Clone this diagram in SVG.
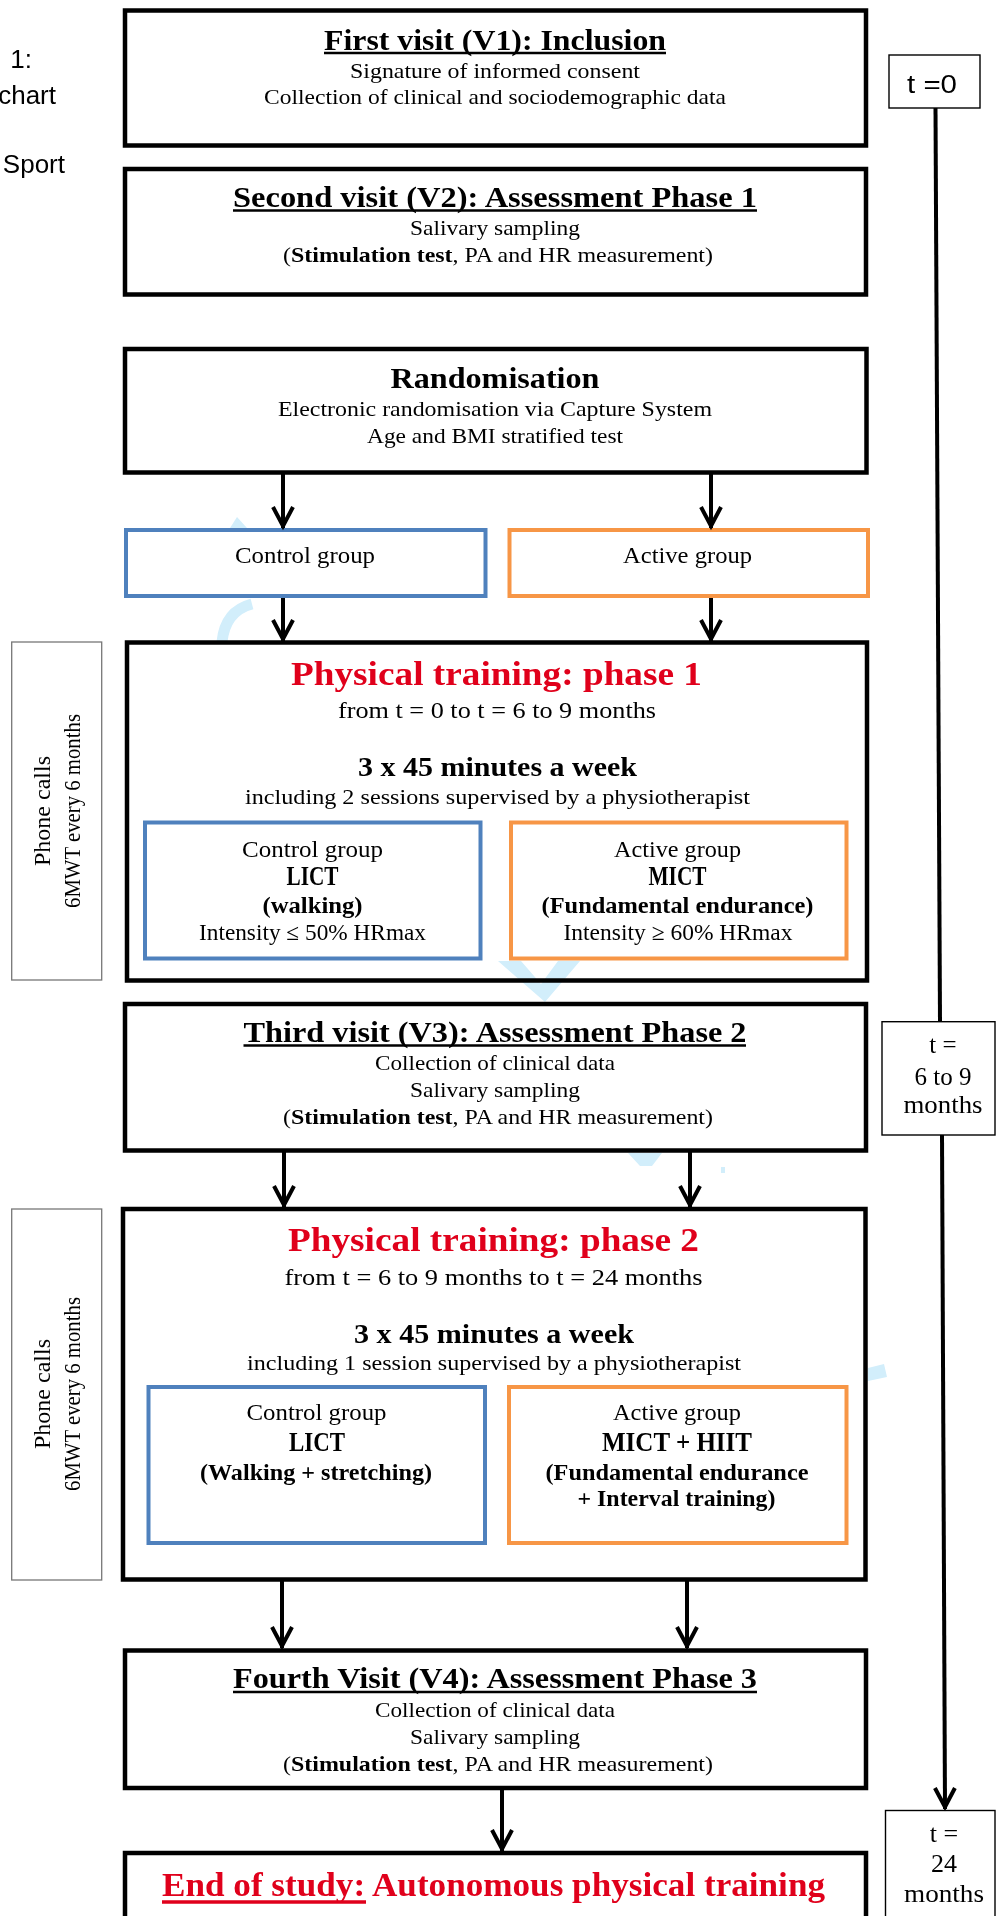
<svg xmlns="http://www.w3.org/2000/svg" width="997" height="1916" viewBox="0 0 997 1916">
<style>
.box{fill:#fff;stroke:#000;stroke-width:4.5}
.blue{fill:#fff;stroke:#4F81BD;stroke-width:4}
.orange{fill:#fff;stroke:#F79646;stroke-width:4}
.side{fill:#fff;stroke:#777;stroke-width:1.3}
.tbox{fill:#fff;stroke:#000;stroke-width:1.4}
text{font-family:"Liberation Serif","Times New Roman",serif;fill:#000}
.c{text-anchor:middle}
.b{font-weight:bold}
.t{font-size:29px;font-weight:bold}
.s{font-size:22px}
.red{fill:#E0001B;font-size:34px;font-weight:bold}
.sans{font-family:"Liberation Sans",Arial,sans-serif}
.ul{stroke:#000;stroke-width:2.4}
.conn{stroke:#000;stroke-width:4;fill:none}
.wm{fill:#D2EEFB;mix-blend-mode:multiply}
</style>
<defs>
<marker id="arr" viewBox="-26 -14 30 28" refX="0" refY="0" markerWidth="30" markerHeight="28" markerUnits="userSpaceOnUse" orient="auto">
<path d="M-21,-10 L-2,0 L-21,10" fill="none" stroke="#000" stroke-width="4"/>
</marker>
</defs>
<rect width="997" height="1916" fill="#fff"/>

<g id="caption-fragments">
<text class="sans" x="32" y="68" text-anchor="end" font-size="26" fill="#333">1:</text>
<text class="sans" x="56" y="104" text-anchor="end" font-size="26" fill="#333">chart</text>
<text class="sans" x="65" y="173" text-anchor="end" font-size="26" fill="#333">Sport</text>
</g>

<g id="v1">
<rect class="box" x="125" y="10.5" width="741" height="135"/>
<text class="c t" x="495" y="50" textLength="342" lengthAdjust="spacingAndGlyphs">First visit (V1): Inclusion</text>
<line class="ul" x1="324" y1="53" x2="666" y2="53"/>
<text class="c s" x="495" y="78" textLength="290" lengthAdjust="spacingAndGlyphs">Signature of informed consent</text>
<text class="c s" x="495" y="104" textLength="462" lengthAdjust="spacingAndGlyphs">Collection of clinical and sociodemographic data</text>
</g>

<g id="v2">
<rect class="box" x="125" y="169" width="741" height="125.5"/>
<text class="c t" x="495" y="207" textLength="524" lengthAdjust="spacingAndGlyphs">Second visit (V2): Assessment Phase 1</text>
<line class="ul" x1="233" y1="210.5" x2="757" y2="210.5"/>
<text class="c s" x="495" y="235" textLength="170" lengthAdjust="spacingAndGlyphs">Salivary sampling</text>
<text class="c s" x="498" y="262" textLength="430" lengthAdjust="spacingAndGlyphs">(<tspan class="b">Stimulation test</tspan>, PA and HR measurement)</text>
</g>

<g id="randomisation">
<rect class="box" x="125" y="349" width="741.5" height="123.5"/>
<text class="c b" x="495" y="388" font-size="30" textLength="209" lengthAdjust="spacingAndGlyphs">Randomisation</text>
<text class="c s" x="495" y="416" textLength="434" lengthAdjust="spacingAndGlyphs">Electronic randomisation via Capture System</text>
<text class="c s" x="495" y="443" textLength="256" lengthAdjust="spacingAndGlyphs">Age and BMI stratified test</text>
</g>

<g id="control-group">
<rect class="blue" x="126" y="530" width="359.5" height="66"/>
<text class="c" x="305" y="563" font-size="23" textLength="140" lengthAdjust="spacingAndGlyphs">Control group</text>
</g>

<g id="active-group">
<rect class="orange" x="509.5" y="530" width="358.5" height="66"/>
<text class="c" x="687.5" y="563" font-size="23" textLength="129" lengthAdjust="spacingAndGlyphs">Active group</text>
</g>

<g id="phone-calls-1">
<rect class="side" x="11.7" y="642" width="90" height="338"/>
<text class="c" transform="translate(50,811) rotate(-90)" font-size="23" fill="#333" textLength="110" lengthAdjust="spacingAndGlyphs">Phone calls</text>
<text class="c" transform="translate(80,811) rotate(-90)" font-size="23" fill="#333" textLength="194" lengthAdjust="spacingAndGlyphs">6MWT every 6 months</text>
</g>

<g id="phase1">
<rect class="box" x="127" y="642.5" width="740" height="338"/>
<text class="c red" x="496.5" y="685" textLength="411" lengthAdjust="spacingAndGlyphs">Physical training: phase 1</text>
<text class="c" x="497" y="718" font-size="23" textLength="318" lengthAdjust="spacingAndGlyphs">from t = 0 to t = 6 to 9 months</text>
<text class="c b" x="497.5" y="776" font-size="28" textLength="279" lengthAdjust="spacingAndGlyphs">3 x 45 minutes a week</text>
<text class="c s" x="497.5" y="804" textLength="505" lengthAdjust="spacingAndGlyphs">including 2 sessions supervised by a physiotherapist</text>
</g>

<g id="phase1-control">
<rect class="blue" x="145" y="822.5" width="335.5" height="136"/>
<text class="c" x="312.5" y="857" font-size="23" textLength="141" lengthAdjust="spacingAndGlyphs">Control group</text>
<text class="c b" x="312.5" y="885" font-size="27" textLength="52" lengthAdjust="spacingAndGlyphs">LICT</text>
<text class="c b" x="312.5" y="913" font-size="24" textLength="100" lengthAdjust="spacingAndGlyphs">(walking)</text>
<text class="c" x="312.5" y="940" font-size="23" textLength="227" lengthAdjust="spacingAndGlyphs">Intensity ≤ 50% HRmax</text>
</g>

<g id="phase1-active">
<rect class="orange" x="511" y="822.5" width="335.5" height="136"/>
<text class="c" x="677.5" y="857" font-size="23" textLength="127" lengthAdjust="spacingAndGlyphs">Active group</text>
<text class="c b" x="677.5" y="885" font-size="27" textLength="58" lengthAdjust="spacingAndGlyphs">MICT</text>
<text class="c b" x="677.5" y="913" font-size="24" textLength="272" lengthAdjust="spacingAndGlyphs">(Fundamental endurance)</text>
<text class="c" x="678" y="940" font-size="23" textLength="229" lengthAdjust="spacingAndGlyphs">Intensity ≥ 60% HRmax</text>
</g>

<g id="v3">
<rect class="box" x="125" y="1004" width="741" height="146.5"/>
<text class="c t" x="495" y="1042" textLength="503" lengthAdjust="spacingAndGlyphs">Third visit (V3): Assessment Phase 2</text>
<line class="ul" x1="243.5" y1="1045.5" x2="746" y2="1045.5"/>
<text class="c s" x="495" y="1070" textLength="240" lengthAdjust="spacingAndGlyphs">Collection of clinical data</text>
<text class="c s" x="495" y="1097" textLength="170" lengthAdjust="spacingAndGlyphs">Salivary sampling</text>
<text class="c s" x="498" y="1124" textLength="430" lengthAdjust="spacingAndGlyphs">(<tspan class="b">Stimulation test</tspan>, PA and HR measurement)</text>
</g>

<g id="phone-calls-2">
<rect class="side" x="11.7" y="1209" width="90" height="371"/>
<text class="c" transform="translate(50,1394) rotate(-90)" font-size="23" fill="#333" textLength="110" lengthAdjust="spacingAndGlyphs">Phone calls</text>
<text class="c" transform="translate(80,1394) rotate(-90)" font-size="23" fill="#333" textLength="194" lengthAdjust="spacingAndGlyphs">6MWT every 6 months</text>
</g>

<g id="phase2">
<rect class="box" x="123" y="1209" width="742.5" height="370.5"/>
<text class="c red" x="493.5" y="1251" textLength="411" lengthAdjust="spacingAndGlyphs">Physical training: phase 2</text>
<text class="c" x="493.5" y="1285" font-size="23" textLength="418" lengthAdjust="spacingAndGlyphs">from t = 6 to 9 months to t = 24 months</text>
<text class="c b" x="494" y="1343" font-size="28" textLength="280" lengthAdjust="spacingAndGlyphs">3 x 45 minutes a week</text>
<text class="c s" x="494" y="1370" textLength="494" lengthAdjust="spacingAndGlyphs">including 1 session supervised by a physiotherapist</text>
</g>

<g id="phase2-control">
<rect class="blue" x="148.5" y="1387" width="336.5" height="156"/>
<text class="c" x="316.5" y="1420" font-size="23" textLength="140" lengthAdjust="spacingAndGlyphs">Control group</text>
<text class="c b" x="317" y="1451" font-size="28" textLength="56" lengthAdjust="spacingAndGlyphs">LICT</text>
<text class="c b" x="316" y="1480" font-size="24" textLength="232" lengthAdjust="spacingAndGlyphs">(Walking + stretching)</text>
</g>

<g id="phase2-active">
<rect class="orange" x="509" y="1387" width="337.5" height="156"/>
<text class="c" x="677" y="1420" font-size="23" textLength="128" lengthAdjust="spacingAndGlyphs">Active group</text>
<text class="c b" x="677" y="1451" font-size="28" textLength="150" lengthAdjust="spacingAndGlyphs">MICT + HIIT</text>
<text class="c b" x="677" y="1480" font-size="24" textLength="263" lengthAdjust="spacingAndGlyphs">(Fundamental endurance</text>
<text class="c b" x="676.5" y="1506" font-size="24" textLength="198" lengthAdjust="spacingAndGlyphs">+ Interval training)</text>
</g>

<g id="v4">
<rect class="box" x="125" y="1650.5" width="741" height="137.5"/>
<text class="c t" x="495" y="1688" textLength="524" lengthAdjust="spacingAndGlyphs">Fourth Visit (V4): Assessment Phase 3</text>
<line class="ul" x1="233" y1="1692" x2="757" y2="1692"/>
<text class="c s" x="495" y="1717" textLength="240" lengthAdjust="spacingAndGlyphs">Collection of clinical data</text>
<text class="c s" x="495" y="1744" textLength="170" lengthAdjust="spacingAndGlyphs">Salivary sampling</text>
<text class="c s" x="498" y="1771" textLength="430" lengthAdjust="spacingAndGlyphs">(<tspan class="b">Stimulation test</tspan>, PA and HR measurement)</text>
</g>

<g id="end-of-study">
<rect class="box" x="125" y="1853" width="741" height="80"/>
<text class="red" x="162" y="1896" textLength="663" lengthAdjust="spacingAndGlyphs">End of study: Autonomous physical training</text>
<line x1="162" y1="1902" x2="366" y2="1902" stroke="#E0001B" stroke-width="3.5"/>
</g>

<g id="t0">
<rect class="tbox" x="889" y="55" width="91" height="53"/>
<text class="sans" x="907" y="93" font-size="26" textLength="50" lengthAdjust="spacingAndGlyphs">t =0</text>
</g>

<g id="t6to9">
<rect class="tbox" x="882" y="1021.7" width="113" height="113.3"/>
<text class="c" x="943" y="1053" font-size="25">t =</text>
<text class="c" x="943" y="1085" font-size="25">6 to 9</text>
<text class="c" x="943" y="1113" font-size="25" textLength="79" lengthAdjust="spacingAndGlyphs">months</text>
</g>

<g id="t24">
<rect class="tbox" x="885.5" y="1810.5" width="109.5" height="120"/>
<text class="c" x="944" y="1842" font-size="26">t =</text>
<text class="c" x="944" y="1872" font-size="26">24</text>
<text class="c" x="944" y="1902" font-size="26" textLength="80" lengthAdjust="spacingAndGlyphs">months</text>
</g>

<g id="connectors">
<line class="conn" x1="283" y1="474" x2="283" y2="528" marker-end="url(#arr)"/>
<line class="conn" x1="711" y1="474" x2="711" y2="528" marker-end="url(#arr)"/>
<line class="conn" x1="283" y1="598" x2="283" y2="641" marker-end="url(#arr)"/>
<line class="conn" x1="711" y1="598" x2="711" y2="641" marker-end="url(#arr)"/>
<line class="conn" x1="284" y1="1152" x2="284" y2="1207" marker-end="url(#arr)"/>
<line class="conn" x1="690" y1="1152" x2="690" y2="1207" marker-end="url(#arr)"/>
<line class="conn" x1="282" y1="1581" x2="282" y2="1648" marker-end="url(#arr)"/>
<line class="conn" x1="687" y1="1581" x2="687" y2="1648" marker-end="url(#arr)"/>
<line class="conn" x1="502" y1="1790" x2="502" y2="1851" marker-end="url(#arr)"/>
<line class="conn" x1="935.5" y1="108" x2="940" y2="1021" stroke-width="4.5"/>
<line class="conn" x1="942" y1="1135" x2="945" y2="1809" stroke-width="4.5" marker-end="url(#arr)"/>
</g>

<g id="watermark">
<path class="wm" d="M230,528 L237,517 L247,528 Z"/>
<path d="M252,604 Q225,611 222,642" fill="none" stroke="#D2EEFB" stroke-width="11" style="mix-blend-mode:multiply"/>
<path class="wm" fill-rule="evenodd" d="M498,961 L580,961 L545,1002 Z M521,961 L558,961 L541,984 Z"/>
<path class="wm" d="M628,1153 L662,1153 L652,1166 L640,1166 Z"/>
<rect class="wm" x="721" y="1167" width="4" height="6"/>
<path class="wm" d="M868,1368 L884,1364 L887,1377 L868,1381 Z"/>
</g>
</svg>
